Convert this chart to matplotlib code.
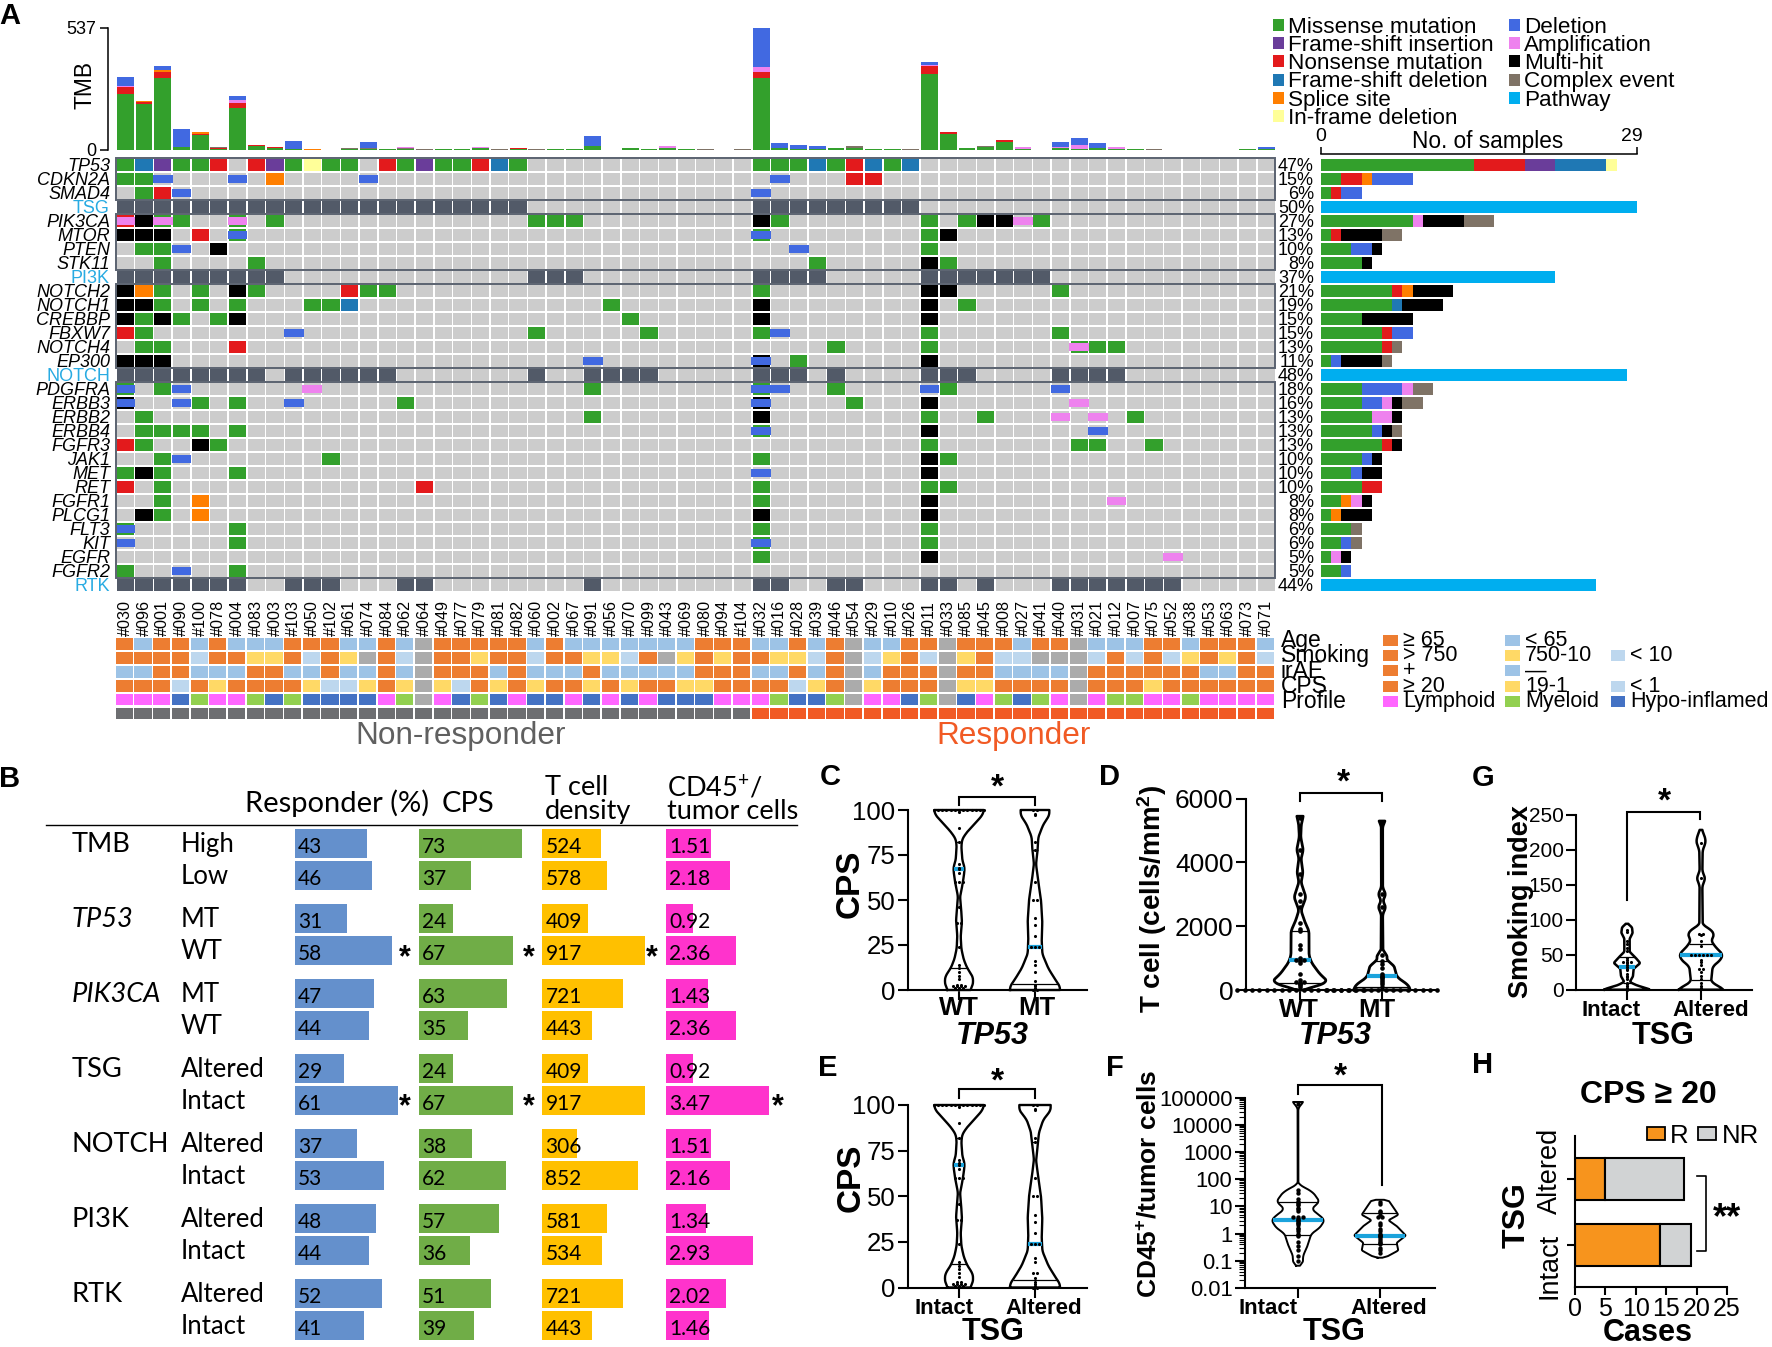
import numpy as np
import matplotlib
matplotlib.use('Agg')
import matplotlib.pyplot as plt
from matplotlib.patches import Rectangle
from matplotlib.ticker import LogLocator, NullFormatter

plt.rcParams['font.family'] = ['Liberation Sans', 'DejaVu Sans']
plt.rcParams['mathtext.default'] = 'regular'

W, H = 1772, 1347

samples = ['#030', '#096', '#001', '#090', '#100', '#078', '#004', '#083', '#003', '#103', '#050', '#102', '#061',
           '#074', '#084', '#062', '#064', '#049', '#077', '#079', '#081', '#082', '#060', '#002', '#067', '#091',
           '#056', '#070', '#099', '#043', '#069', '#080', '#094', '#104', '#032', '#016', '#028', '#039', '#046',
           '#054', '#029', '#010', '#026', '#011', '#033', '#085', '#045', '#008', '#027', '#041', '#040', '#031',
           '#021', '#012', '#007', '#075', '#052', '#038', '#053', '#063', '#073', '#071']

# G missense, P fs insertion, R nonsense, F fs deletion, O splice, Y in-frame, D deletion, A amp, K multi, C complex
# two letters = second one drawn as a short bar on top of the first
genes = ['TP53', 'CDKN2A', 'SMAD4', 'TSG', 'PIK3CA', 'MTOR', 'PTEN', 'STK11', 'PI3K', 'NOTCH2', 'NOTCH1', 'CREBBP',
         'FBXW7', 'NOTCH4', 'EP300', 'NOTCH', 'PDGFRA', 'ERBB3', 'ERBB2', 'ERBB4', 'FGFR3', 'JAK1', 'MET', 'RET',
         'FGFR1', 'PLCG1', 'FLT3', 'KIT', 'EGFR', 'FGFR2', 'RTK']
pathways = ['TSG', 'PI3K', 'NOTCH', 'RTK']
pct = [47, 15, 6, 50, 27, 13, 10, 8, 37, 21, 19, 15, 15, 13, 11, 48, 18, 16, 13, 13, 13, 10, 10, 10, 8, 8, 6, 6, 5, 5,
       44]

calls = {
    'TP53': {0: 'G', 1: 'F', 2: 'P', 3: 'G', 4: 'G', 5: 'R', 7: 'R', 8: 'P', 9: 'G', 10: 'Y', 11: 'G', 12: 'G', 14: 'R',
             15: 'G', 16: 'P', 17: 'G', 18: 'G', 19: 'R', 20: 'F', 21: 'G', 34: 'G', 35: 'G', 36: 'G', 37: 'F', 38: 'G',
             39: 'R', 40: 'F', 41: 'G', 42: 'F'},
    'CDKN2A': {0: 'G', 1: 'G', 2: 'D', 6: 'D', 8: 'O', 13: 'D', 35: 'D', 39: 'R', 40: 'R'},
    'SMAD4': {1: 'G', 2: 'R', 3: 'D', 34: 'D'},
    'PIK3CA': {0: 'RA', 1: 'K', 2: 'GA', 3: 'G', 6: 'GA', 8: 'G', 22: 'G', 23: 'G', 24: 'G', 34: 'K', 35: 'G', 43: 'G',
               45: 'G', 46: 'K', 47: 'K', 48: 'A', 49: 'G'},
    'MTOR': {0: 'K', 1: 'K', 2: 'K', 4: 'R', 6: 'GD', 34: 'GD', 43: 'G', 44: 'K'},
    'PTEN': {1: 'G', 2: 'G', 3: 'D', 5: 'K', 36: 'D', 43: 'G'},
    'STK11': {2: 'G', 7: 'G', 37: 'G', 43: 'K', 44: 'G'},
    'NOTCH2': {0: 'K', 1: 'O', 2: 'G', 4: 'G', 6: 'K', 7: 'G', 12: 'R', 13: 'G', 14: 'G', 34: 'G', 43: 'K', 44: 'K',
               50: 'G'},
    'NOTCH1': {0: 'K', 1: 'K', 2: 'G', 4: 'G', 6: 'G', 10: 'G', 11: 'G', 12: 'F', 26: 'G', 34: 'K', 43: 'K', 45: 'G'},
    'CREBBP': {0: 'K', 1: 'G', 2: 'K', 3: 'G', 5: 'G', 6: 'K', 27: 'G', 34: 'K', 43: 'K'},
    'FBXW7': {0: 'R', 1: 'G', 9: 'D', 22: 'G', 28: 'G', 34: 'G', 35: 'D', 43: 'G', 50: 'G'},
    'NOTCH4': {1: 'G', 2: 'G', 6: 'R', 38: 'G', 43: 'G', 51: 'GA', 52: 'G', 53: 'G'},
    'EP300': {0: 'K', 1: 'K', 2: 'K', 25: 'D', 34: 'KD', 36: 'G', 43: 'K'},
    'PDGFRA': {0: 'GD', 2: 'G', 3: 'D', 10: 'A', 25: 'G', 34: 'GD', 35: 'D', 38: 'G', 43: 'D', 44: 'G', 50: 'D'},
    'ERBB3': {0: 'KD', 3: 'D', 4: 'G', 6: 'G', 9: 'D', 15: 'G', 34: 'KD', 39: 'G', 43: 'K', 51: 'A'},
    'ERBB2': {1: 'G', 25: 'G', 34: 'K', 43: 'G', 46: 'G', 50: 'A', 52: 'A', 54: 'G'},
    'ERBB4': {1: 'G', 2: 'G', 3: 'G', 4: 'G', 6: 'G', 34: 'GD', 43: 'K', 52: 'D'},
    'FGFR3': {0: 'R', 1: 'G', 4: 'K', 5: 'G', 43: 'G', 51: 'G', 52: 'G', 55: 'G'},
    'JAK1': {2: 'G', 3: 'D', 11: 'G', 34: 'G', 43: 'K', 44: 'G'},
    'MET': {0: 'G', 1: 'K', 2: 'G', 6: 'G', 34: 'D', 43: 'K'},
    'RET': {0: 'R', 2: 'G', 16: 'R', 34: 'G', 43: 'G', 44: 'G'},
    'FGFR1': {2: 'G', 4: 'O', 34: 'G', 43: 'K', 53: 'A'},
    'PLCG1': {1: 'K', 2: 'G', 4: 'O', 34: 'K', 43: 'K'},
    'FLT3': {0: 'GD', 6: 'G', 34: 'G', 43: 'G'},
    'KIT': {0: 'D', 6: 'G', 34: 'GD', 43: 'G'},
    'EGFR': {34: 'G', 43: 'K', 56: 'A'},
    'FGFR2': {0: 'G', 3: 'D', 6: 'G'},
}
path_cols = {
    'TSG': list(range(0, 22)) + list(range(34, 43)),
    'PI3K': list(range(0, 9)) + [22, 23, 24, 34, 35, 36, 37] + list(range(43, 50)),
    'NOTCH': list(range(0, 8)) + list(range(9, 15)) + [22, 25, 26, 27, 28, 34, 35, 36, 38, 43, 44, 45, 50, 51, 52, 53],
    'RTK': list(range(0, 7)) + [9, 10, 11, 15, 16, 25, 34, 35, 38, 39, 43, 44, 46] + list(range(50, 57)),
}

# TMB stacks per sample
tmb_missense = [248, 202, 319, 13, 65, 3, 186, 18, 9, 3, 2, 2, 5, 5, 3, 6, 2, 3, 3, 8, 2, 6, 2, 4, 4, 16, 1, 7, 4, 10,
                4, 2, 1, 1, 319, 7, 3, 3, 7, 10, 4, 3, 2, 335, 72, 7, 13, 34, 3, 2, 8, 6, 9, 3, 5, 2, 1, 1, 1, 1, 4, 3]
tmb_nonsense = [28, 10, 25, 0, 7, 6, 19, 3, 3, 0, 0, 0, 0, 0, 1, 0, 0, 0, 0, 0, 0, 1, 0, 0, 0, 0, 0, 1, 0, 0, 0, 0, 0,
                0, 25, 0, 0, 0, 0, 0, 0, 0, 0, 35, 8, 0, 1, 8, 0, 0, 0, 0, 0, 0, 0, 0, 0, 0, 0, 0, 0, 0]
tmb_splice = [0, 4, 9, 0, 7, 2, 0, 0, 0, 0, 1, 0, 0, 0, 0, 0, 0, 0, 0, 0, 0, 0, 0, 0, 0, 0, 0, 0, 0, 0, 0, 0, 0, 0, 0,
              0, 0, 0, 0, 0, 0, 0, 0, 0, 0, 0, 0, 0, 0, 0, 0, 0, 0, 0, 0, 0, 0, 0, 0, 0, 0, 0]
tmb_complex = [0, 0, 0, 0, 0, 1, 0, 0, 0, 0, 0, 0, 3, 2, 2, 2, 1, 3, 2, 0, 1, 2, 1, 2, 2, 0, 1, 2, 2, 0, 2, 1, 1, 2, 0,
               0, 0, 0, 0, 6, 2, 1, 1, 0, 0, 0, 2, 0, 3, 0, 0, 0, 0, 0, 1, 1, 1, 1, 1, 1, 2, 0]
tmb_amp = [6, 0, 0, 0, 0, 0, 13, 0, 0, 0, 0, 0, 0, 0, 0, 6, 1, 0, 0, 4, 0, 0, 0, 0, 0, 0, 0, 0, 0, 9, 0, 0, 0, 0, 20,
           0, 0, 0, 0, 0, 0, 0, 0, 3, 0, 0, 0, 0, 7, 0, 6, 18, 0, 12, 0, 0, 0, 0, 0, 0, 0, 0]
tmb_del = [40, 0, 15, 78, 0, 0, 21, 0, 0, 35, 0, 0, 0, 28, 0, 0, 0, 0, 0, 0, 0, 0, 0, 0, 0, 45, 0, 0, 0, 0, 0, 0, 0, 0,
           172, 24, 19, 15, 0, 0, 0, 0, 0, 14, 0, 0, 0, 0, 0, 0, 20, 30, 23, 0, 0, 0, 0, 0, 0, 0, 0, 9]

# samples per gene, by type
side_counts = [
    [('G', 15), ('R', 5), ('P', 3), ('F', 5), ('Y', 1)], [('G', 2), ('R', 2), ('O', 1), ('D', 4)],
    [('G', 1), ('R', 1), ('D', 2)], [('W', 31)],
    [('G', 9), ('A', 1), ('K', 4), ('C', 3)], [('G', 1), ('R', 1), ('K', 4), ('C', 2)],
    [('G', 3), ('D', 2), ('K', 1)], [('G', 4), ('K', 1)], [('W', 23)],
    [('G', 7), ('R', 1), ('O', 1), ('K', 4)], [('G', 7), ('F', 1), ('K', 4)], [('G', 4), ('K', 5)],
    [('G', 6), ('R', 1), ('D', 2)], [('G', 6), ('R', 1), ('C', 1)], [('G', 1), ('D', 1), ('K', 4), ('C', 1)],
    [('W', 30)],
    [('G', 4), ('D', 4), ('A', 1), ('C', 2)], [('G', 4), ('D', 2), ('A', 1), ('K', 1), ('C', 2)],
    [('G', 5), ('A', 2), ('K', 1)], [('G', 5), ('D', 1), ('K', 1), ('C', 1)], [('G', 6), ('R', 1), ('K', 1)],
    [('G', 4), ('D', 1), ('K', 1)], [('G', 3), ('D', 1), ('K', 2)], [('G', 4), ('R', 2)],
    [('G', 2), ('O', 1), ('A', 1), ('K', 1)], [('G', 1), ('O', 1), ('K', 3)], [('G', 3), ('C', 1)],
    [('G', 2), ('D', 1), ('C', 1)], [('G', 1), ('A', 1), ('K', 1)], [('G', 2), ('D', 1)], [('W', 27)],
]

track_age = 'OBOOBOBBBOOOBBOBNOOOOOBOBBBBBBBOOOBBOBONBBOONOOOBOONBBBOOBOOOB'
track_smoke = 'OOOOLOOYYOLOYNOLNOOYOOLOOYYLONYOYOOYYLONLYOLNYOLLNNNLOLOLYOYOL'
track_irae = 'BBOOBBBOOBBOBBOBNOOOBOBBBOBBBBBOOOBBOBONBOOONOOBBBBNOOOOOOBBOO'
track_cps = 'OOOLOYOOOOYLLYOYNYLOYOYOOYOYOOYYOOOOLYONYOOONYYOOOONOOOYOOOOOO'
track_profile = 'MMMHGMMGHGHHHHMGNMHGHMHHMHMHMHHHMMMGHHGNMMHGNHMGHGMNMGGMMGMMMM'
tracks = [track_age, track_smoke, track_irae, track_cps, track_profile]
track_names = ['Age', 'Smoking', 'irAE', 'CPS', 'Profile']
n_nonresp = 34

# panel B
b_groups = ['TMB', 'TP53', 'PIK3CA', 'TSG', 'NOTCH', 'PI3K', 'RTK']
b_subs = [['High', 'Low'], ['MT', 'WT'], ['MT', 'WT'], ['Altered', 'Intact'], ['Altered', 'Intact'],
          ['Altered', 'Intact'], ['Altered', 'Intact']]
b_resp = [43, 46, 31, 58, 47, 44, 29, 61, 37, 53, 48, 44, 52, 41]
b_cps = [73, 37, 24, 67, 63, 35, 24, 67, 38, 62, 57, 36, 51, 39]
b_tcell = [524, 578, 409, 917, 721, 443, 409, 917, 306, 852, 581, 534, 721, 443]
b_cd45 = ['1.51', '2.18', '0.92', '2.36', '1.43', '2.36', '0.92', '3.47', '1.51', '2.16', '1.34', '2.93', '2.02',
          '1.46']

# violins: value levels and relative widths
c_wt_y = [100, 97, 92, 88, 84, 80, 72, 68, 64, 58, 52, 46, 38, 30, 23, 17, 12, 8, 5, 2, 0]
c_wt_w = [75, 70, 45, 25, 10, 7, 10, 17, 15, 10, 3, 6, 9, 5, 7, 14, 25, 40, 43, 40, 33]
c_wt_pts = [100] * 13 + [99, 90, 82, 70, 68, 67, 65, 60, 60, 60, 46, 37, 37, 24, 14, 12, 10, 8, 6, 3, 3, 2, 2, 2, 2,
                         1, 1, 1]
c_mt_y = [100, 97, 92, 85, 78, 70, 60, 50, 38, 28, 20, 12, 6, 2, 0]
c_mt_w = [43, 43, 25, 10, 8, 3, 10, 18, 22, 20, 22, 40, 60, 75, 75]
c_mt_pts = [100, 100, 98, 97, 82, 78, 60, 50, 50, 40, 36, 30, 24, 24, 24, 16, 14, 10, 5, 3, 2, 1, 0, 0]
e_al_y = [100, 97, 92, 85, 78, 70, 60, 50, 38, 28, 20, 12, 6, 2, 0]
e_al_w = [47, 47, 25, 12, 8, 3, 10, 18, 22, 20, 22, 40, 60, 75, 75]
e_al_pts = [100, 100, 98, 97, 82, 80, 60, 50, 50, 40, 36, 30, 24, 24, 24, 16, 14, 8, 8, 5, 3, 2, 1, 0, 0]
d_wt_y = [5450, 5210, 4800, 4390, 4130, 3680, 3380, 2910, 2500, 2150, 1850, 1085, 850, 495, 260, 80, 0]
d_wt_w = [10, 4, 2, 10, 3, 9, 3, 18, 3, 14, 27, 27, 35, 60, 85, 40, 0]
d_wt_pts = [5400, 4400, 3650, 3000, 2800, 2600, 2100, 1900, 1850, 1400, 1300, 1000, 950, 950, 900, 850, 500, 300, 250,
            250, 220, 200, 150, 100] + [0] * 18
d_mt_y = [5300, 5150, 3200, 3000, 2800, 2600, 2380, 1200, 1130, 900, 800, 400, 150, 0]
d_mt_w = [10, 2, 2, 12, 2, 12, 2, 3, 15, 15, 35, 45, 80, 85]
d_mt_pts = [5250, 3000, 2600, 1100, 900, 800, 700, 500, 450, 400, 380, 300, 250, 200, 100] + [0] * 16
f_in_y = [69000, 43000, 63, 54, 33, 15, 8, 4.2, 3.1, 1.6, 1.0, 0.39, 0.15, 0.08, 0.066]
f_in_w = [17, 1, 1, 15, 45, 65, 40, 70, 80, 65, 40, 30, 15, 15, 2]
f_in_pts = [60000, 40, 30, 18, 15, 14, 12, 11, 9, 8, 7, 4, 4, 4, 3.5, 3.2, 3, 2.5, 2.4, 2, 1.6, 1.5, 1.2, 1, 0.9, 0.8,
            0.5, 0.35, 0.25, 0.15, 0.1]
f_al_y = [17.5, 17, 9.3, 4.9, 3.1, 1.9, 0.85, 0.46, 0.24, 0.14, 0.13]
f_al_w = [3, 25, 40, 55, 25, 50, 78, 50, 55, 20, 2]
f_al_pts = [15, 12, 7, 6, 5, 4, 4, 2.5, 2, 1.5, 1.2, 0.95, 0.9, 0.85, 0.8, 0.7, 0.6, 0.5, 0.45, 0.4, 0.3, 0.25, 0.2]
g_in_y = [94, 89, 81, 73, 54, 46, 38, 30, 19, 11, 6, 2, 0]
g_in_w = [3, 15, 17, 8, 8, 25, 40, 20, 18, 8, 30, 60, 70]
g_in_pts = [85, 82, 70, 65, 60, 55, 45, 42, 40, 40, 40, 38, 35, 32, 30, 28, 22, 20, 18, 15, 10, 8, 5, 2, 0]
g_al_y = [228, 218, 210, 199, 169, 159, 148, 92, 86, 78, 70, 60, 51, 43, 33, 11, 3, 0]
g_al_w = [3, 12, 14, 5, 4, 13, 4, 5, 30, 40, 30, 45, 65, 60, 35, 30, 60, 70]
g_al_pts = [210, 160, 80, 80, 78, 70, 62, 50, 50, 50, 50, 50, 50, 42, 40, 35, 30, 30, 25, 20, 15, 10, 5, 2]

# panel H
h_labels = ['Intact', 'Altered']
h_r = [14, 5]
h_nr = [5, 13]

colors = {'G': '#33A02C', 'P': '#6A3D9A', 'R': '#E31A1C', 'F': '#1F78B4', 'O': '#FF7F00', 'Y': '#FFFF99',
          'D': '#4169E1', 'A': '#EE82EE', 'K': '#000000', 'C': '#7F7366', 'W': '#00AEEF'}
track_colors = {'O': '#ED7D31', 'B': '#9DC3E6', 'Y': '#FFD966', 'L': '#BDD7EE', 'N': '#ABABAB', 'M': '#FF66FF',
                'G': '#92D050', 'H': '#4472C4'}
PATH_CELL = '#525A68'
CELL = '#CCCCCC'
CYAN = '#29ABE2'
BLUE_MED = '#1BA3DC'

fig = plt.figure(figsize=(W / 100, H / 100), dpi=100)


def px_axes(x0, y0, x1, y1):
    return fig.add_axes([x0 / W, 1 - y1 / H, (x1 - x0) / W, (y1 - y0) / H])


# overlay in picture pixels for labels and brackets
pg = fig.add_axes([0, 0, 1, 1], zorder=5)
pg.set_xlim(0, W)
pg.set_ylim(H, 0)
pg.axis('off')
pg.patch.set_alpha(0)


def t(x, y, s, size=14, ha='left', va='center', nudge=True, **kw):
    # bbox centre sits above the visual centre of the caps
    if nudge and 'rotation' not in kw:
        y = y + size * 0.14
    pg.text(x, y, s, fontsize=size, ha=ha, va=va, **kw)


def bracket(xl, xr, ytop, yl, yr, star_x, star_y, lw=1.5):
    pg.plot([xl, xl, xr, xr], [yl, ytop, ytop, yr], color='k', lw=lw, solid_joinstyle='miter')
    t(star_x, star_y + 4, '*', 24, ha='center', fontweight='bold', nudge=False)


# --- A: TMB bars
x0m, x1m = 116, 1275.5
ax = px_axes(x0m, 28, x1m, 150)
bottom = np.zeros(len(samples))
xs = np.arange(len(samples)) + 0.5
for vals, c in [(tmb_missense, 'G'), (tmb_nonsense, 'R'), (tmb_splice, 'O'), (tmb_complex, 'C'), (tmb_amp, 'A'),
                (tmb_del, 'D')]:
    ax.bar(xs, vals, 0.9, bottom=bottom, color=colors[c])
    bottom += np.array(vals)
ax.set_xlim(0, len(samples))
ax.set_ylim(0, 537)
for s in ['top', 'right', 'bottom']:
    ax.spines[s].set_visible(False)
ax.spines['left'].set_position(('outward', 6))
ax.spines['left'].set_linewidth(1.1)
ax.set_xticks([])
ax.set_yticks([0, 537])
ax.tick_params(axis='y', labelsize=13, length=6, width=1.1, pad=2)
t(85, 85, 'TMB', 16.5, ha='center', rotation=90)

# --- A: mutation matrix
ax = px_axes(x0m, 158, x1m, 592)
ax.set_xlim(0, len(samples))
ax.set_ylim(len(genes), 0)
ax.axis('off')
for r, g in enumerate(genes):
    for c in range(len(samples)):
        ax.add_patch(Rectangle((c + 0.04, r + 0.05), 0.92, 0.9, fc=CELL, lw=0))
    if g in pathways:
        for c in path_cols[g]:
            ax.add_patch(Rectangle((c + 0.04, r + 0.05), 0.92, 0.9, fc=PATH_CELL, lw=0))
        continue
    for c, code in calls[g].items():
        if code[0] not in 'DA':
            ax.add_patch(Rectangle((c + 0.04, r + 0.07), 0.92, 0.86, fc=colors[code[0]], lw=0, zorder=2))
        if code[-1] in 'DA':
            ax.add_patch(Rectangle((c - 0.03, r + 0.2), 1.06, 0.58, fc=colors[code[-1]], lw=0, zorder=3))
for r0, r1 in [(0, 3), (4, 8), (9, 15), (16, 30)]:
    ax.add_patch(Rectangle((0, r0), len(samples), r1 - r0, fc='none', ec='#5A6270', lw=1.4, zorder=4, clip_on=False))
for r, g in enumerate(genes):
    y = 158 + 14 * (r + 0.5)
    if g in pathways:
        t(110, y, g, 13, ha='right', color=CYAN)
    else:
        t(110, y, g, 13, ha='right', style='italic')
    t(1314, y, '%d%%' % pct[r], 13, ha='right')
for i, s in enumerate(samples):
    t(x0m + 18.7 * (i + 0.5), 636, s, 11.6, ha='center', va='bottom', rotation=90)

# --- A: side bars (the scale runs to the TSG bar, which the figure labels 29)
ax = px_axes(1320.7, 158, 1637, 592)
for r, parts in enumerate(side_counts):
    left = 0
    for code, n in parts:
        ax.barh(r + 0.5, n, 0.9, left=left, color=colors[code])
        left += n
ax.set_xlim(0, 31)
ax.set_ylim(len(genes), 0)
for s in ['left', 'right', 'bottom']:
    ax.spines[s].set_visible(False)
ax.spines['top'].set_position(('outward', 3))
ax.spines['top'].set_linewidth(1.1)
ax.set_yticks([])
ax.xaxis.tick_top()
ax.set_xticks([0, 31])
ax.set_xticklabels([])
ax.tick_params(axis='x', length=5, width=1.1)
t(1321, 135, '0', 14, ha='center')
t(1632, 135, '29', 14, ha='center')
t(1488, 139, 'No. of samples', 16.3, ha='center')

# --- A: legend
leg1 = [('G', 'Missense mutation'), ('P', 'Frame-shift insertion'), ('R', 'Nonsense mutation'),
        ('F', 'Frame-shift deletion'), ('O', 'Splice site'), ('Y', 'In-frame deletion')]
leg2 = [('D', 'Deletion'), ('A', 'Amplification'), ('K', 'Multi-hit'), ('C', 'Complex event'), ('W', 'Pathway')]
for lx, items in [(1273, leg1), (1509, leg2)]:
    for i, (code, name) in enumerate(items):
        y = 25 + 18.2 * i
        pg.add_patch(Rectangle((lx, y - 6), 11.5, 12, fc=colors[code], lw=0))
        t(lx + 15, y, name, 16.2)

# --- A: annotation tracks
ax = px_axes(115, 637, 1274.5, 720.5)
ax.set_xlim(0, len(samples))
ax.set_ylim(6, 0)
ax.axis('off')
for r, tr in enumerate(tracks):
    for c, code in enumerate(tr):
        ax.add_patch(Rectangle((c + 0.04, r + 0.08), 0.92, 0.84, fc=track_colors[code], lw=0))
for c in range(len(samples)):
    col = '#6D6E71' if c < n_nonresp else '#F15A24'
    ax.add_patch(Rectangle((c + 0.04, 5.08), 0.92, 0.84, fc=col, lw=0))
t(461, 733, 'Non-responder', 22.7, ha='center', color='#606060')
t(1014, 733, 'Responder', 22.7, ha='center', color='#F15A24')

key_rows = [[('O', '\u2265 65'), ('B', '< 65')],
            [('O', '> 750'), ('Y', '750-10'), ('L', '< 10')],
            [('O', '+'), ('B', '\u2014')],
            [('O', '\u2265 20'), ('Y', '19-1'), ('L', '< 1')],
            [('M', 'Lymphoid'), ('G', 'Myeloid'), ('H', 'Hypo-inflamed')]]
key_x = [1383, 1505, 1611]
key_w = [15, 15, 14]
for r, row in enumerate(key_rows):
    y = 640 + 15.35 * r
    t(1281, y - 2, track_names[r], 16.5)
    for k, (code, name) in enumerate(row):
        pg.add_patch(Rectangle((key_x[k], y - 5.5), key_w[k], 11, fc=track_colors[code], lw=0))
        t(key_x[k] + key_w[k] + 5, y - 2, name, 15.5)

# --- B
row_y = []
for g in range(len(b_groups)):
    row_y += [843.5 + 75 * g, 875.5 + 75 * g]
b_cols = [(295, b_resp, '#6490CC', 61), (419, b_cps, '#70AD47', 73), (542.4, b_tcell, '#FFC000', 917),
          (666, [float(v) for v in b_cd45], '#FF33CC', 3.47)]
b_text = [b_resp, b_cps, b_tcell, b_cd45]
lato = ['Lato', 'DejaVu Sans']
for (bx, vals, col, vmax), labs in zip(b_cols, b_text):
    ax = px_axes(bx, 825, bx + 102.5, 1340)
    ax.barh(row_y, vals, 28.7, color=col)
    ax.set_xlim(0, vmax)
    ax.set_ylim(1340, 825)
    ax.axis('off')
    for y, lab in zip(row_y, labs):
        t(bx + 3, y + 1, str(lab), 15, family=lato)
pg.plot([46, 797], [825, 825], color='k', lw=1)
t(245, 800, 'Responder (%)', 21, family=lato)
t(442, 801, 'CPS', 21, family=lato)
t(545, 785, 'T cell', 19.5, family=lato)
t(545, 809, 'density', 19.5, family=lato)
t(667, 785, 'CD45$^{+}$/', 19.5, family=lato)
t(667, 809, 'tumor cells', 19.5, family=lato)
for g, name in enumerate(b_groups):
    y = 843.5 + 75 * g
    t(72, y - 2, name, 19.6, family=lato, style='italic' if name in ('TP53', 'PIK3CA') else 'normal')
    t(181, y - 2, b_subs[g][0], 18.5, family=lato)
    t(181, y + 30, b_subs[g][1], 18.5, family=lato)
for sx in (405, 529, 652):
    t(sx, 958, '*', 22, ha='center', fontweight='bold', nudge=False)
for sx in (405, 529, 778):
    t(sx, 1107, '*', 22, ha='center', fontweight='bold', nudge=False)


# --- violins
def smooth_outline(levels, widths, log=False):
    lv = np.log10(levels) if log else np.array(levels, dtype=float)
    order = np.argsort(lv)
    grid = np.linspace(lv.min(), lv.max(), 240)
    w = np.interp(grid, lv[order], np.array(widths, dtype=float)[order])
    k = np.ones(9) / 9
    w = np.convolve(np.pad(w, 4, mode='edge'), k, mode='valid')
    return (10 ** grid if log else grid), w


def violin(ax, pos, levels, widths, pts, median, q1, q3, unit, log=False, lw=1.7, dot=5, step=0.055):
    yy, ww = smooth_outline(levels, widths, log)
    ww = ww * unit
    ax.fill_betweenx(yy, pos - ww, pos + ww, color='white', zorder=2, clip_on=False)
    ax.plot(np.r_[pos - ww, (pos + ww)[::-1], (pos - ww)[0]], np.r_[yy, yy[::-1], yy[0]], color='k', lw=lw, zorder=3,
            clip_on=False)
    for v, c, l in [(q1, 'k', 0.9), (q3, 'k', 0.9), (median, BLUE_MED, 3)]:
        h = np.interp(np.log10(v) if log else v, np.log10(yy) if log else yy, ww)
        ax.plot([pos - h, pos + h], [v, v], color=c, lw=l, zorder=4, solid_capstyle='butt', clip_on=False)
    # same values sit side by side
    uniq, cnt = np.unique(pts, return_counts=True)
    px, py = [], []
    for v, n in zip(uniq, cnt):
        px += list(pos + (np.arange(n) - (n - 1) / 2) * step)
        py += [v] * n
    ax.scatter(px, py, s=dot, color='k', zorder=5, lw=0, clip_on=False)


def violin_axes(x_axis, x_end, y_top, y_bot, tick0, tick1):
    spacing = tick1 - tick0
    ax = px_axes(x_axis, y_top, x_end, y_bot)
    ax.set_xlim(1 - (tick0 - x_axis) / spacing, 2 + (x_end - tick1) / spacing)
    for s in ['top', 'right']:
        ax.spines[s].set_visible(False)
    for s in ['left', 'bottom']:
        ax.spines[s].set_linewidth(1.5)
    ax.set_xticks([1, 2])
    ax.set_xticklabels([])
    ax.patch.set_alpha(0)
    ax.tick_params(length=7, width=1.5)
    return ax, spacing


bf = {'fontweight': 'bold', 'nudge': False}

# C
ax, sp = violin_axes(908, 1087, 810, 990, 959, 1035)
ax.set_ylim(0, 100)
ax.set_yticks([0, 25, 50, 75, 100])
ax.tick_params(axis='y', labelsize=18.5, pad=2)
violin(ax, 1, c_wt_y, c_wt_w, c_wt_pts, 67, 12, 82, 1 / 3 / sp)
violin(ax, 2, c_mt_y, c_mt_w, c_mt_pts, 24, 3.5, 78, 1 / 3 / sp)
t(959, 1008, 'WT', 18.5, ha='center', **bf)
t(1037, 1008, 'MT', 18.5, ha='center', **bf)
t(992, 1036, 'TP53', 22, ha='center', style='italic', **bf)
t(850, 884, 'CPS', 24, ha='center', rotation=90, **bf)
bracket(959, 1035, 797, 805, 805, 997, 784)

# E
ax, sp = violin_axes(908, 1087, 1105, 1287.5, 959, 1035)
ax.set_ylim(0, 100)
ax.set_yticks([0, 25, 50, 75, 100])
ax.tick_params(axis='y', labelsize=18.5, pad=2)
violin(ax, 1, c_wt_y, c_wt_w, c_wt_pts, 67, 13, 82, 1 / 3 / sp)
violin(ax, 2, e_al_y, e_al_w, e_al_pts, 24, 4, 80, 1 / 3 / sp)
t(944, 1308, 'Intact', 16, ha='center', **bf)
t(1044, 1308, 'Altered', 16, ha='center', **bf)
t(993, 1332, 'TSG', 22, ha='center', **bf)
t(851, 1178, 'CPS', 24, ha='center', rotation=90, **bf)
bracket(959, 1035, 1089, 1098, 1098, 997, 1078)

# D
ax, sp = violin_axes(1246, 1437, 798.7, 990, 1300, 1382)
ax.set_ylim(0, 6000)
ax.set_yticks([0, 2000, 4000, 6000])
ax.tick_params(axis='y', labelsize=19, pad=2)
violin(ax, 1, d_wt_y, d_wt_w, d_wt_pts, 950, 220, 1850, 1 / 3 / sp, lw=2, dot=11, step=0.09)
violin(ax, 2, d_mt_y, d_mt_w, d_mt_pts, 450, 100, 900, 1 / 3 / sp, lw=2, dot=11, step=0.09)
t(1299, 1010, 'WT', 18.5, ha='center', **bf)
t(1377, 1010, 'MT', 18.5, ha='center', **bf)
t(1335, 1036, 'TP53', 22, ha='center', style='italic', **bf)
t(1152, 899, 'T cell (cells/mm$^{2}$)', 20, ha='center', rotation=90, **bf)
bracket(1300, 1382, 793, 800.6, 800.6, 1343, 779)

# F
ax, sp = violin_axes(1245, 1435, 1097.6, 1288, 1298, 1380)
ax.set_yscale('log')
ax.set_ylim(0.01, 100000)
ax.set_yticks([0.01, 0.1, 1, 10, 100, 1000, 10000, 100000])
ax.set_yticklabels(['0.01', '0.1', '1', '10', '100', '1000', '10000', '100000'])
ax.yaxis.set_minor_locator(LogLocator(base=10, subs=np.arange(2, 10), numticks=12))
ax.yaxis.set_minor_formatter(NullFormatter())
ax.tick_params(axis='y', which='major', labelsize=15.8, pad=2)
ax.tick_params(axis='y', which='minor', length=4, width=0.8)
violin(ax, 1, f_in_y, f_in_w, f_in_pts, 3.1, 0.9, 15, 1 / 3 / sp, log=True, lw=1.4, dot=10)
violin(ax, 2, f_al_y, f_al_w, f_al_pts, 0.85, 0.4, 5.5, 1 / 3 / sp, log=True, lw=1.4, dot=10)
t(1268, 1308, 'Intact', 16, ha='center', **bf)
t(1389, 1308, 'Altered', 16, ha='center', **bf)
t(1334, 1332, 'TSG', 22, ha='center', **bf)
t(1149, 1184, 'CD45$^{+}$/tumor cells', 19, ha='center', rotation=90, **bf)
bracket(1298, 1382, 1085, 1094, 1185, 1340, 1073)

# G
ax, sp = violin_axes(1576, 1752, 814.5, 989.7, 1627, 1701)
ax.set_ylim(0, 250)
ax.set_yticks([0, 50, 100, 150, 200, 250])
ax.tick_params(axis='y', labelsize=15, pad=2)
violin(ax, 1, g_in_y, g_in_w, g_in_pts, 32, 10, 46, 1 / 3 / sp, lw=1.8)
violin(ax, 2, g_al_y, g_al_w, g_al_pts, 50, 14, 65, 1 / 3 / sp, lw=1.8)
t(1611, 1010, 'Intact', 16, ha='center', **bf)
t(1711, 1010, 'Altered', 16, ha='center', **bf)
t(1663, 1036, 'TSG', 22, ha='center', **bf)
t(1521, 902, 'Smoking index', 19.5, ha='center', rotation=90, **bf)
bracket(1627, 1700, 811.5, 900, 819, 1664, 797.6)

# H
ax = px_axes(1575, 1136, 1727, 1287.4)
ys = [0, 1]
ax.barh(ys, h_r, 0.63, color='#F7941D', edgecolor='k', lw=1.5)
ax.barh(ys, h_nr, 0.63, left=h_r, color='#D1D3D4', edgecolor='k', lw=1.5)
ax.set_xlim(0, 25)
ax.set_ylim(-0.64, 1.65)
ax.set_xticks([0, 5, 10, 15, 20, 25])
ax.set_yticks(ys)
ax.set_yticklabels([])
for s in ['top', 'right']:
    ax.spines[s].set_visible(False)
for s in ['left', 'bottom']:
    ax.spines[s].set_linewidth(1.5)
ax.patch.set_alpha(0)
ax.tick_params(length=6, width=1.5)
ax.tick_params(axis='x', labelsize=18, pad=1)
t(1550, 1266, h_labels[0], 19.5, ha='center', rotation=90)
t(1550, 1171, h_labels[1], 19.5, ha='center', rotation=90)
t(1517, 1215, 'TSG', 23, ha='center', rotation=90, **bf)
t(1648, 1095, 'CPS \u2265 20', 23, ha='center', **bf)
t(1648, 1333, 'Cases', 22, ha='center', **bf)
pg.add_patch(Rectangle((1647, 1127), 18, 13, fc='#F7941D', ec='k', lw=1.3))
pg.add_patch(Rectangle((1698, 1127), 18, 13, fc='#D1D3D4', ec='k', lw=1.3))
t(1670, 1133, 'R', 18.5)
t(1722, 1133, 'NR', 18.5)
pg.plot([1697, 1706, 1706, 1697], [1176, 1176, 1250.6, 1250.6], color='k', lw=1.2)
t(1727, 1219, '**', 26, ha='center', **bf)

# panel letters
for letter, lx, ly in [('A', 10, 16), ('B', 10, 779), ('C', 830, 777), ('D', 1110, 777), ('E', 828, 1068),
                       ('F', 1115, 1068), ('G', 1483, 778), ('H', 1483, 1065)]:
    t(lx, ly, letter, 21, ha='center', **bf)

fig.savefig('out.png', dpi=100)
